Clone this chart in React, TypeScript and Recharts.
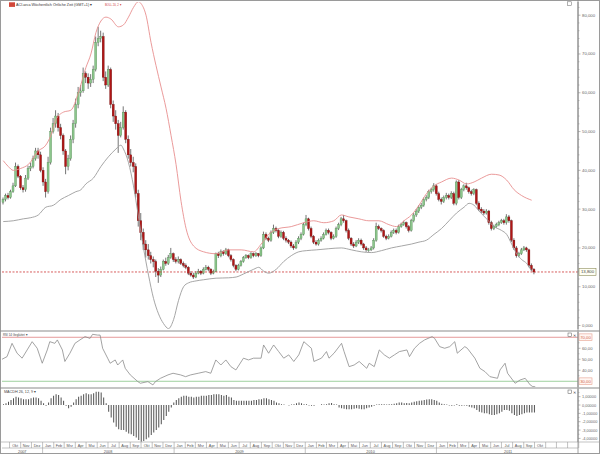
import React from 'react';
import { ComposedChart, Bar, Line, XAxis, YAxis, ReferenceLine } from 'recharts';

// ---------- weekly candles (Sep 2007 .. Oct 2011) ----------
const opens = [
  31.8, 32.5, 33.5, 33.0, 34.5, 36.0, 41.0, 38.5, 35.5, 35.0,
  38.0, 40.5, 41.0, 43.0, 45.0, 44.0, 40.0, 37.0, 34.5, 42.0,
  50.0, 52.0, 54.0, 51.0, 49.0, 45.0, 41.0, 43.0, 48.0, 52.0,
  57.0, 60.0, 60.5, 65.0, 64.0, 62.5, 63.5, 66.0, 73.0, 74.0,
  74.5, 64.0, 62.0, 66.0, 57.0, 54.0, 52.0, 49.0, 51.0, 55.0,
  48.0, 44.0, 42.0, 41.0, 34.0, 27.0, 24.0, 21.0, 19.5, 18.0,
  17.0, 16.5, 14.0, 13.0, 14.5, 16.5, 16.0, 17.5, 18.5, 17.0,
  16.5, 17.0, 16.0, 15.5, 15.0, 13.5, 13.0, 12.5, 13.5, 14.0,
  13.5, 14.5, 15.0, 14.5, 13.5, 14.0, 18.5, 18.0, 19.0, 18.5,
  19.5, 18.0, 17.0, 15.5, 14.5, 15.5, 16.5, 17.5, 18.0, 17.5,
  18.5, 18.0, 18.5, 18.0, 20.0, 23.5, 22.5, 22.0, 24.0, 25.0,
  24.5, 23.0, 24.0, 22.5, 22.0, 21.5, 20.5, 20.0, 21.5, 22.5,
  23.5, 26.0, 27.5, 25.0, 23.0, 21.5, 21.0, 22.0, 22.5, 23.5,
  24.5, 24.0, 22.5, 23.0, 25.0, 26.0, 27.5, 27.0, 24.5, 22.5,
  21.0, 20.5, 21.5, 22.0, 21.0, 20.0, 19.5, 19.5, 20.0, 22.0,
  25.5, 25.0, 24.5, 23.0, 22.5, 23.0, 24.0, 24.5, 24.0, 25.5,
  26.0, 26.5, 25.5, 24.5, 27.0, 28.5, 29.5, 30.5, 31.0, 32.5,
  33.0, 34.5, 35.0, 36.0, 34.0, 32.5, 32.0, 33.0, 33.5, 33.0,
  34.0, 31.5, 37.0, 33.0, 35.0, 36.0, 35.5, 34.5, 34.0, 35.0,
  31.5, 30.0, 29.5, 29.0, 29.5, 26.5, 25.0, 25.5, 26.0, 26.5,
  27.0, 26.5, 28.0, 27.0, 22.0, 20.0, 18.0, 18.5, 19.5, 20.0,
  19.5, 15.5, 14.5,
];
const highs = [
  33.0, 34.0, 34.2, 35.0, 36.8, 42.0, 41.5, 38.8, 36.2, 38.8,
  41.2, 42.0, 43.8, 45.8, 45.8, 44.8, 40.8, 37.8, 43.5, 51.0,
  53.5, 55.5, 54.8, 52.0, 49.5, 45.5, 44.0, 49.0, 53.0, 58.5,
  61.5, 62.0, 66.5, 65.5, 65.0, 64.8, 67.0, 74.5, 77.0, 76.0,
  75.5, 65.5, 67.0, 66.5, 58.0, 55.5, 53.0, 52.5, 56.5, 55.5,
  49.0, 45.5, 43.5, 41.8, 35.0, 29.0, 25.0, 22.0, 21.0, 19.0,
  17.8, 17.0, 14.8, 15.2, 17.0, 17.5, 18.2, 20.0, 18.8, 17.6,
  17.8, 17.3, 16.5, 16.0, 15.3, 14.0, 13.6, 14.0, 14.6, 14.3,
  15.0, 15.6, 15.4, 14.8, 14.4, 18.8, 19.0, 19.6, 19.4, 20.0,
  19.8, 18.4, 17.3, 15.8, 15.9, 16.9, 17.9, 18.4, 18.3, 18.9,
  18.8, 18.9, 18.7, 20.4, 24.2, 24.0, 22.9, 24.5, 26.0, 25.5,
  24.8, 24.5, 24.4, 23.0, 22.3, 21.9, 21.0, 22.0, 23.0, 24.0,
  26.5, 28.5, 27.8, 25.5, 23.3, 22.0, 22.4, 23.0, 24.0, 25.0,
  25.0, 24.3, 23.5, 25.5, 26.5, 28.0, 28.5, 27.3, 25.0, 22.8,
  21.5, 22.0, 22.5, 22.4, 21.3, 20.5, 20.0, 20.5, 22.5, 26.5,
  26.0, 25.3, 24.8, 23.4, 23.5, 24.5, 25.0, 25.0, 26.0, 26.5,
  27.0, 26.8, 25.9, 27.5, 29.0, 30.0, 31.0, 31.6, 33.0, 33.6,
  35.0, 35.5, 36.7, 36.4, 34.5, 33.0, 33.5, 34.2, 34.0, 34.6,
  34.5, 37.4, 37.5, 35.5, 36.4, 36.8, 35.8, 35.0, 35.4, 35.3,
  32.0, 30.5, 30.0, 30.0, 29.8, 27.0, 26.0, 26.5, 27.0, 27.5,
  27.5, 28.7, 28.5, 27.3, 22.5, 20.5, 19.0, 20.0, 20.5, 20.3,
  19.8, 16.0, 14.8,
];
const lows = [
  31.2, 32.0, 32.5, 32.7, 34.2, 35.7, 38.0, 35.0, 34.3, 34.5,
  37.5, 39.8, 40.5, 42.5, 43.0, 39.5, 36.0, 33.0, 34.0, 41.5,
  49.5, 51.0, 50.0, 48.0, 44.0, 39.0, 40.0, 42.5, 47.0, 51.0,
  56.0, 59.0, 60.0, 62.5, 61.0, 61.5, 62.5, 65.5, 72.0, 73.0,
  63.0, 61.0, 61.5, 56.0, 52.5, 50.5, 44.5, 48.5, 50.5, 47.0,
  43.0, 41.0, 39.5, 33.0, 25.5, 22.0, 19.5, 17.5, 17.0, 16.0,
  15.0, 12.5, 11.0, 12.5, 14.2, 15.4, 15.6, 17.2, 16.4, 16.0,
  16.0, 15.6, 15.0, 14.5, 13.0, 12.6, 12.0, 12.2, 13.2, 13.0,
  13.2, 14.2, 14.0, 13.0, 13.2, 13.8, 17.4, 17.6, 18.0, 18.2,
  17.6, 16.5, 15.0, 14.0, 14.2, 15.2, 16.2, 17.2, 17.1, 17.2,
  17.6, 17.7, 17.6, 17.7, 19.7, 22.0, 21.5, 21.6, 23.6, 24.0,
  22.5, 22.6, 22.0, 21.4, 21.0, 20.0, 19.5, 19.7, 21.0, 22.0,
  23.2, 25.6, 24.5, 22.5, 21.0, 20.6, 20.6, 21.6, 22.2, 23.2,
  23.5, 22.0, 22.2, 22.6, 24.6, 25.6, 26.5, 24.0, 22.0, 20.5,
  20.0, 20.2, 21.0, 20.6, 19.5, 19.0, 19.0, 19.2, 19.6, 21.6,
  24.6, 24.0, 22.6, 22.0, 22.2, 22.7, 23.6, 23.5, 23.7, 25.2,
  25.7, 25.0, 24.0, 24.2, 26.6, 28.0, 29.0, 30.0, 30.6, 32.0,
  32.6, 34.0, 34.5, 33.5, 32.0, 31.2, 31.6, 32.5, 32.5, 32.6,
  31.0, 31.0, 32.5, 32.6, 34.6, 35.0, 34.0, 33.5, 33.6, 31.0,
  29.5, 29.0, 28.5, 28.6, 26.0, 24.5, 24.6, 25.2, 25.6, 26.2,
  26.0, 26.0, 26.5, 21.5, 19.5, 17.5, 17.6, 18.2, 19.2, 19.0,
  15.0, 14.0, 13.2,
];
const closes = [
  32.5, 33.5, 33.0, 34.5, 36.0, 41.0, 38.5, 35.5, 35.0, 38.0,
  40.5, 41.0, 43.0, 45.0, 44.0, 40.0, 37.0, 34.5, 42.0, 50.0,
  52.0, 54.0, 51.0, 49.0, 45.0, 41.0, 43.0, 48.0, 52.0, 57.0,
  60.0, 60.5, 65.0, 64.0, 62.5, 63.5, 66.0, 73.0, 74.0, 74.5,
  64.0, 62.0, 66.0, 57.0, 54.0, 52.0, 49.0, 51.0, 55.0, 48.0,
  44.0, 42.0, 41.0, 34.0, 27.0, 24.0, 21.0, 19.5, 18.0, 17.0,
  16.5, 14.0, 13.0, 14.5, 16.5, 16.0, 17.5, 18.5, 17.0, 16.5,
  17.0, 16.0, 15.5, 15.0, 13.5, 13.0, 12.5, 13.5, 14.0, 13.5,
  14.5, 15.0, 14.5, 13.5, 14.0, 18.5, 18.0, 19.0, 18.5, 19.5,
  18.0, 17.0, 15.5, 14.5, 15.5, 16.5, 17.5, 18.0, 17.5, 18.5,
  18.0, 18.5, 18.0, 20.0, 23.5, 22.5, 22.0, 24.0, 25.0, 24.5,
  23.0, 24.0, 22.5, 22.0, 21.5, 20.5, 20.0, 21.5, 22.5, 23.5,
  26.0, 27.5, 25.0, 23.0, 21.5, 21.0, 22.0, 22.5, 23.5, 24.5,
  24.0, 22.5, 23.0, 25.0, 26.0, 27.5, 27.0, 24.5, 22.5, 21.0,
  20.5, 21.5, 22.0, 21.0, 20.0, 19.5, 19.5, 20.0, 22.0, 25.5,
  25.0, 24.5, 23.0, 22.5, 23.0, 24.0, 24.5, 24.0, 25.5, 26.0,
  26.5, 25.5, 24.5, 27.0, 28.5, 29.5, 30.5, 31.0, 32.5, 33.0,
  34.5, 35.0, 36.0, 34.0, 32.5, 32.0, 33.0, 33.5, 33.0, 34.0,
  31.5, 37.0, 33.0, 35.0, 36.0, 35.5, 34.5, 34.0, 35.0, 31.5,
  30.0, 29.5, 29.0, 29.5, 26.5, 25.0, 25.5, 26.0, 26.5, 27.0,
  26.5, 28.0, 27.0, 22.0, 20.0, 18.0, 18.5, 19.5, 20.0, 19.5,
  15.5, 14.5, 13.8,
];

// ---------- Bollinger (20, 2), read at sampled weeks ----------
const upperWeeks = [0, 2, 4, 7, 10, 14, 17, 19, 21, 24, 27, 30, 33, 35, 37, 39, 41, 43, 46, 48, 50, 52, 54, 55, 57, 59, 61, 63, 65, 67, 69, 71, 73, 76, 80, 85, 90, 95, 100, 103, 106, 110, 115, 120, 124, 128, 132, 135, 138, 142, 146, 150, 154, 157, 160, 163, 166, 169, 172, 175, 179, 182, 185, 188, 191, 195, 198, 201, 204, 207, 211];
const upperBand = [42.5, 41.0, 40.0, 40.5, 41.5, 45.0, 46.5, 49.0, 53.0, 55.0, 55.5, 60.0, 66.5, 70.0, 75.5, 78.5, 79.5, 79.0, 77.0, 77.5, 79.5, 82.0, 83.5, 83.0, 80.0, 73.0, 67.0, 61.5, 56.0, 49.0, 41.5, 32.0, 25.0, 20.5, 19.0, 18.5, 19.5, 19.5, 19.0, 21.0, 23.5, 25.0, 25.5, 26.5, 27.0, 26.5, 27.0, 28.5, 28.0, 27.5, 27.0, 27.0, 26.0, 25.5, 27.0, 28.5, 31.0, 34.0, 36.0, 37.0, 38.0, 37.5, 36.5, 37.0, 38.0, 39.0, 38.8, 37.5, 35.0, 33.5, 32.3];
const lowerWeeks = [0, 4, 8, 11, 14, 17, 20, 23, 26, 29, 31, 33, 36, 39, 42, 45, 47, 48, 50, 52, 54, 56, 58, 60, 62, 64, 66, 68, 70, 72, 74, 77, 80, 85, 90, 93, 96, 100, 102, 104, 106, 109, 112, 115, 118, 121, 125, 130, 135, 139, 143, 147, 151, 155, 159, 163, 166, 169, 172, 175, 178, 181, 184, 186, 188, 190, 193, 196, 199, 201, 203, 205, 207, 209, 211];
const lowerBand = [26.8, 27.0, 27.5, 27.8, 28.5, 30.5, 31.0, 32.5, 33.5, 34.5, 35.0, 36.5, 38.0, 41.0, 43.5, 45.5, 46.5, 45.5, 42.0, 36.0, 28.0, 20.0, 13.0, 7.0, 3.0, 0.5, -0.8, 1.5, 6.5, 10.0, 11.0, 11.5, 11.8, 12.2, 12.3, 12.5, 13.3, 14.5, 15.0, 14.0, 13.5, 14.5, 16.5, 18.0, 19.0, 19.3, 19.5, 19.8, 20.0, 19.5, 19.0, 18.8, 19.3, 20.0, 20.5, 21.0, 21.5, 22.0, 23.5, 25.0, 27.0, 29.0, 30.5, 31.5, 31.0, 29.5, 27.5, 25.5, 24.5, 23.5, 21.0, 18.5, 17.0, 16.0, 14.0];

// ---------- RSI 14 (smoothed), read at sampled weeks ----------
const rsiWeeks = [0, 2, 4, 6, 8, 10, 12, 14, 16, 18, 19, 21, 22, 24, 25, 27, 29, 31, 33, 35, 36, 38, 39, 40, 42, 43, 45, 46, 48, 49, 51, 54, 55, 58, 60, 61, 63, 66, 68, 71, 73, 75, 78, 81, 83, 85, 87, 89, 91, 93, 96, 98, 100, 103, 104, 106, 108, 110, 112, 114, 116, 118, 120, 123, 124, 127, 129, 130, 132, 135, 136, 138, 140, 142, 145, 146, 148, 150, 152, 154, 156, 158, 161, 162, 164, 166, 168, 171, 172, 174, 176, 178, 180, 181, 184, 185, 188, 190, 192, 194, 197, 198, 200, 201, 204, 206, 208, 210, 211, 212];
const rsiValues = [50, 52.4, 64.5, 55.5, 51, 58.5, 66, 60, 46.4, 58.5, 66, 64.5, 67.6, 58.5, 48, 55.5, 64.5, 67.6, 70.6, 69, 72.7, 72, 72, 60, 51, 46.4, 49.4, 44.8, 49.4, 41.8, 35.8, 29.7, 28.2, 29.7, 26.7, 29.7, 32.7, 35.8, 37.3, 35.8, 34.2, 35.8, 37.3, 38.8, 37.3, 49.4, 44.8, 49.4, 43.3, 40.3, 51, 49.4, 51, 51, 63, 55.5, 63, 57, 51, 54, 48, 54, 66, 60, 48, 51, 57, 51, 55.5, 64.5, 57, 43.3, 44.8, 48, 41.8, 46.4, 43.3, 58.5, 54, 51, 54, 57, 58.5, 52.4, 60, 64.5, 67.6, 70.6, 69, 61.5, 60, 61.5, 66, 55.5, 61.5, 60, 51, 41.8, 38.8, 34.2, 32.7, 40.3, 46.4, 37.3, 28.2, 31.2, 32.7, 26.7, 25.2, 25.0];

// ---------- MACD histogram (26, 12, 9), one per week ----------
const macdHist = [
  0.1, 0.2, 0.4, 0.6, 0.8, 1.0, 0.9, 0.8, 0.7, 0.7,
  0.7, 0.8, 0.9, 0.9, 0.8, 0.5, 0.2, -0.1, 0.3, 0.8,
  1.1, 1.3, 1.2, 0.9, 0.5, -0.1, -0.4, -0.2, 0.3, 0.7,
  1.0, 1.1, 1.3, 1.4, 1.3, 1.3, 1.4, 1.6, 1.6, 1.5,
  0.9, 0.2, -0.8, -1.5, -2.1, -2.6, -2.9, -3.0, -3.0, -3.2,
  -3.4, -3.5, -3.7, -3.9, -4.2, -4.4, -4.3, -4.1, -3.9, -3.6,
  -3.3, -3.0, -2.7, -2.3, -1.8, -1.3, -0.8, -0.3, 0.3, 0.6,
  0.8, 1.0, 1.1, 1.1, 1.0, 1.0, 0.9, 1.0, 1.0, 1.1,
  1.1, 1.1, 1.2, 1.2, 1.3, 1.3, 1.3, 1.2, 1.1, 1.2,
  1.0, 0.9, 0.6, 0.5, 0.5, 0.5, 0.5, 0.5, 0.5, 0.5,
  0.6, 0.6, 0.7, 0.7, 0.8, 0.8, 0.7, 0.6, 0.5, 0.3,
  0.2, 0.1, 0.05, 0.0, -0.05, 0.05, 0.1, 0.2, 0.3, 0.2,
  0.1, 0.1, -0.05, -0.1, -0.1, 0.0, 0.0, 0.1, 0.05, 0.1,
  0.2, 0.25, 0.1, 0.05, -0.3, -0.4, -0.45, -0.5, -0.5, -0.5,
  -0.45, -0.4, -0.45, -0.5, -0.5, -0.4, -0.3, -0.2, -0.1, 0.05,
  0.1, 0.1, 0.1, 0.05, 0.1, 0.1, 0.15, 0.2, 0.3, 0.3,
  0.2, 0.25, 0.2, 0.3, 0.4, 0.45, 0.5, 0.55, 0.6, 0.65,
  0.7, 0.7, 0.6, 0.5, 0.3, 0.15, 0.1, 0.05, -0.05, -0.1,
  -0.05, 0.1, -0.1, -0.1, -0.05, -0.1, -0.2, -0.3, -0.4, -0.6,
  -0.8, -0.9, -1.0, -1.0, -1.1, -1.2, -1.2, -1.1, -1.0, -0.8,
  -0.6, -0.6, -0.7, -1.0, -1.2, -1.3, -1.2, -1.1, -1.0, -0.9,
  -0.9, -0.9, -0.9,
];

// ---------- axis labels ----------
const rsiTicks = [30, 40, 50, 60, 70];
const rsiBoxed = [30, 70];
const monthNames = ['Jan', 'Feb', 'Mrz', 'Apr', 'Mai', 'Jun', 'Jul', 'Aug', 'Sep', 'Okt', 'Nov', 'Dez'];
const titleText = 'ACI.arca Wöchentlich Örtliche Zeit (GMT+1) ▾';
const bollText = 'BOLL 20, 2 ▾';
const rsiTitle = 'RSI 14 Geglättet ▾';
const macdTitle = 'MACDH 26, 12, 9 ▾';

// ---------- layout ----------
const W = 600;
const M_LEFT = 2;
const AXIS_W = 22;
const AXIS_X = W - AXIS_W;
const SLOTS = 230;
const SLOT_W = (W - M_LEFT - AXIS_W) / SLOTS;
const FONT = 'Liberation Sans, Arial, sans-serif';
const MACD_H = 66;
const TIME_H = 12;
const TIME_TOP = MACD_H - TIME_H; // chart-local y of the time axis
const lastClose = closes[closes.length - 1];

const DATA_START = Date.UTC(2007, 8, 10);
const posOf = (y: number, m: number) => (Date.UTC(y, m, 1) - DATA_START) / (7 * 86400000);
const lastLabel = { y: 2011, m: 9 };
const monthCells: { pos: number; label: string; m: number; y: number }[] = [];
for (let y = 2007; y <= 2012; y++) {
  for (let m = 0; m < 12; m++) {
    const p = posOf(y, m);
    if (p <= 0 || p >= SLOTS) continue;
    const show = y < lastLabel.y || (y === lastLabel.y && m <= lastLabel.m);
    monthCells.push({ pos: p, label: show ? monthNames[m] : '', m, y });
  }
}
const monthTicks = monthCells.map((c) => c.pos);

const rows = Array.from({ length: SLOTS }, (_, w) => {
  const has = w < closes.length;
  return {
    w,
    range: has ? [lows[w], highs[w]] : null,
    open: has ? opens[w] : null,
    high: has ? highs[w] : null,
    low: has ? lows[w] : null,
    close: has ? closes[w] : null,
    upper: null as number | null,
    lower: null as number | null,
    rsi: null as number | null,
    macd: w < macdHist.length ? macdHist[w] : null,
  };
});
upperWeeks.forEach((wk, i) => { rows[wk].upper = upperBand[i]; });
lowerWeeks.forEach((wk, i) => { rows[wk].lower = lowerBand[i]; });
rsiWeeks.forEach((wk, i) => { rows[wk].rsi = rsiValues[i]; });

const fmt = (v: number, d: number) => v.toFixed(d).replace('.', ',');

const Candle = (props: any) => {
  const { x, y, width, height, payload } = props;
  if (!payload || payload.high == null || x == null) return null;
  const { open, high, low, close } = payload;
  const top0 = Math.min(y, y + height);
  const h0 = Math.abs(height);
  const span = high - low || 1;
  const yv = (v: number) => top0 + ((high - v) / span) * h0;
  const cx = x + width / 2;
  const up = close >= open;
  const bt = yv(Math.max(open, close));
  const bb = yv(Math.min(open, close));
  return (
    <g>
      <line x1={cx} x2={cx} y1={top0} y2={top0 + h0} stroke="#3a3a3a" strokeWidth={0.7} />
      <rect
        x={x}
        y={bt}
        width={width}
        height={Math.max(bb - bt, 0.8)}
        fill={up ? '#8cc68c' : '#b01616'}
        stroke={up ? '#4f8a4f' : '#6e0a0a'}
        strokeWidth={0.35}
      />
    </g>
  );
};

const minorTick = (y: number) => (
  <line x1={AXIS_X} x2={AXIS_X + 1.5} y1={y} y2={y} stroke="#8a8a8a" strokeWidth={0.5} />
);

const PriceTick = (p: any) => {
  const { y, payload } = p;
  const x = AXIS_X;
  const v = payload.value;
  if (v === lastClose) {
    return (
      <g>
        <rect x={x + 1} y={y - 3.6} width={17} height={7.2} fill="#fffff4" stroke="#8c8c5a" strokeWidth={0.6} />
        <text x={x + 9.5} y={y + 1.5} fontSize={4.3} fontFamily={FONT} textAnchor="middle" fill="#444">{fmt(v, 3)}</text>
      </g>
    );
  }
  if (v % 10 !== 0) return minorTick(y);
  return (
    <g>
      <line x1={x} x2={x + 2.5} y1={y} y2={y} stroke="#8a8a8a" strokeWidth={0.6} />
      <text x={x + 4} y={y + 1.5} fontSize={4.3} fontFamily={FONT} fill="#666">{fmt(v, 3)}</text>
    </g>
  );
};

const RsiTick = (p: any) => {
  const { y, payload } = p;
  const x = AXIS_X;
  const v = payload.value;
  if (rsiBoxed.includes(v)) {
    return (
      <g>
        <rect x={x + 1} y={y - 3.4} width={13} height={6.8} fill="#fff6f2" stroke="#e6a090" strokeWidth={0.6} />
        <text x={x + 7.5} y={y + 1.5} fontSize={4.2} fontFamily={FONT} textAnchor="middle" fill="#d0604c">{fmt(v, 2)}</text>
      </g>
    );
  }
  if (v % 10 !== 0) return minorTick(y);
  return (
    <g>
      <line x1={x} x2={x + 2.5} y1={y} y2={y} stroke="#8a8a8a" strokeWidth={0.6} />
      <text x={x + 4} y={y + 1.5} fontSize={4.2} fontFamily={FONT} fill="#666">{fmt(v, 2)}</text>
    </g>
  );
};

const MacdTick = (p: any) => {
  const { y, payload } = p;
  const x = AXIS_X;
  const v = payload.value;
  if (!Number.isInteger(v)) return minorTick(y);
  return (
    <g>
      <line x1={x} x2={x + 2.5} y1={y} y2={y} stroke="#8a8a8a" strokeWidth={0.6} />
      <text x={x + 4} y={y + 1.5} fontSize={3.9} fontFamily={FONT} fill="#666">{fmt(v, 5)}</text>
    </g>
  );
};

const TimeTick = (p: any) => {
  const { x, payload } = p;
  const y = TIME_TOP;
  const idx = monthCells.findIndex((c) => Math.abs(c.pos - payload.value) < 1e-6);
  if (idx < 0) return null;
  const cell = monthCells[idx];
  const xOf = (pos: number) => x + (pos - cell.pos) * SLOT_W;
  const nextPos = idx + 1 < monthCells.length ? monthCells[idx + 1].pos : SLOTS;
  const yearStart = cell.m === 0 && cell.y <= lastLabel.y;
  const items: any[] = [];
  items.push(<line key="v" x1={x} x2={x} y1={y} y2={y + (yearStart ? TIME_H : 6)} stroke="#9a9a9a" strokeWidth={0.6} />);
  if (cell.label) {
    items.push(
      <text key="t" x={(x + xOf(nextPos)) / 2} y={y + 4.6} fontSize={3.8} fontFamily={FONT} textAnchor="middle" fill="#555">{cell.label}</text>
    );
  }
  if (idx === 0) {
    items.push(<line key="h" x1={xOf(0)} x2={xOf(SLOTS)} y1={y + 6} y2={y + 6} stroke="#9a9a9a" strokeWidth={0.6} />);
    const firstJan = monthCells.find((c) => c.m === 0);
    if (firstJan) {
      items.push(
        <text key="y0" x={(xOf(0) + xOf(firstJan.pos)) / 2} y={y + 10.5} fontSize={3.8} fontFamily={FONT} textAnchor="middle" fill="#555">{String(cell.y)}</text>
      );
    }
  }
  if (yearStart) {
    const nextJan = monthCells.find((c) => c.m === 0 && c.y === cell.y + 1 && c.y <= lastLabel.y);
    const endPos = nextJan ? nextJan.pos : SLOTS;
    items.push(
      <text key="y" x={(x + xOf(endPos)) / 2} y={y + 10.5} fontSize={3.8} fontFamily={FONT} textAnchor="middle" fill="#555">{String(cell.y)}</text>
    );
  }
  return <g>{items}</g>;
};

const evenTicks = (lo: number, hi: number, step: number) => {
  const out: number[] = [];
  for (let v = lo; v <= hi + 1e-9; v += step) out.push(Math.round(v * 100) / 100);
  return out;
};

export default function App() {
  const priceAxisTicks = [...evenTicks(0, 82, 2), lastClose];
  const rsiAxisTicks = evenTicks(30, 70, 5);
  const macdAxisTicks = evenTicks(-4, 1.5, 0.5);
  return (
    <div style={{ position: 'absolute', left: 0, top: 0, width: W, height: 454, background: '#fff', overflow: 'hidden' }}>
      {/* main price panel */}
      <div style={{ position: 'absolute', left: 0, top: 0 }}>
        <ComposedChart width={W} height={331} data={rows} margin={{ top: 2, right: 0, bottom: 2, left: M_LEFT }}>
          <XAxis dataKey="w" type="category" hide />
          <YAxis
            orientation="right"
            width={AXIS_W}
            domain={[-0.9, 83.4]}
            allowDataOverflow
            ticks={priceAxisTicks}
            interval={0}
            tickSize={0}
            tickMargin={0}
            tickLine={false}
            axisLine={{ stroke: '#8a8a8a' }}
            tick={(p: any) => <PriceTick {...p} />}
          />
          <ReferenceLine y={lastClose} stroke="#cc3333" strokeDasharray="2 1.5" strokeWidth={0.8} />
          <Line dataKey="upper" type="monotone" stroke="#e88e8e" strokeWidth={0.9} dot={false} connectNulls isAnimationActive={false} />
          <Line dataKey="lower" type="monotone" stroke="#9c9c9c" strokeWidth={0.9} dot={false} connectNulls isAnimationActive={false} />
          <Bar dataKey="range" barSize={2} shape={(p: any) => <Candle {...p} />} isAnimationActive={false} />
        </ComposedChart>
      </div>

      {/* RSI panel */}
      <div style={{ position: 'absolute', left: 0, top: 331 }}>
        <ComposedChart width={W} height={57} data={rows} margin={{ top: 1, right: 0, bottom: 1, left: M_LEFT }}>
          <XAxis dataKey="w" type="category" hide />
          <YAxis
            orientation="right"
            width={AXIS_W}
            domain={[24.8, 74.8]}
            allowDataOverflow
            ticks={rsiAxisTicks}
            interval={0}
            tickSize={0}
            tickMargin={0}
            tickLine={false}
            axisLine={{ stroke: '#8a8a8a' }}
            tick={(p: any) => <RsiTick {...p} />}
          />
          <ReferenceLine y={rsiTicks[4]} stroke="#e08080" strokeWidth={0.8} />
          <ReferenceLine y={rsiTicks[0]} stroke="#86c486" strokeWidth={0.8} />
          <Line dataKey="rsi" type="linear" stroke="#8c8c8c" strokeWidth={0.8} dot={false} connectNulls isAnimationActive={false} />
        </ComposedChart>
      </div>

      {/* MACD panel + time axis */}
      <div style={{ position: 'absolute', left: 0, top: 388 }}>
        <ComposedChart width={W} height={MACD_H} data={rows} margin={{ top: 1, right: 0, bottom: 0, left: M_LEFT }}>
          <XAxis dataKey="w" type="category" hide />
          <XAxis
            xAxisId="t"
            type="number"
            domain={[0, SLOTS]}
            allowDataOverflow
            ticks={monthTicks}
            interval={0}
            height={TIME_H}
            tickSize={0}
            tickMargin={0}
            tickLine={false}
            axisLine={{ stroke: '#9a9a9a', strokeWidth: 0.6 }}
            tick={(p: any) => <TimeTick {...p} />}
          />
          <YAxis
            orientation="right"
            width={AXIS_W}
            domain={[-4.43, 1.92]}
            allowDataOverflow
            ticks={macdAxisTicks}
            interval={0}
            tickSize={0}
            tickMargin={0}
            tickLine={false}
            axisLine={{ stroke: '#8a8a8a' }}
            tick={(p: any) => <MacdTick {...p} />}
          />
          <Bar dataKey="macd" barSize={1} fill="#505050" isAnimationActive={false} />
        </ComposedChart>
      </div>

      {/* frame, separators, panel titles */}
      <svg width={W} height={454} style={{ position: 'absolute', left: 0, top: 0, pointerEvents: 'none' }}>
        <rect x={0.5} y={0.5} width={W - 1} height={453} fill="none" stroke="#9a9a9a" strokeWidth={1} />
        <line x1={0} x2={W} y1={331} y2={331} stroke="#8c8c8c" strokeWidth={1.2} />
        <line x1={0} x2={W} y1={388} y2={388} stroke="#8c8c8c" strokeWidth={1.2} />
        <line x1={0} x2={W} y1={442} y2={442} stroke="#9a9a9a" strokeWidth={0.6} />
        <line x1={AXIS_X} x2={AXIS_X} y1={0} y2={454} stroke="#8a8a8a" strokeWidth={0.8} />

        <rect x={9} y={2.3} width={6} height={4.6} fill="#d2473a" />
        <text x={16} y={6.3} fontSize={4.2} fontFamily={FONT} fill="#333" textLength={76} lengthAdjust="spacingAndGlyphs">{titleText}</text>
        <text x={105} y={6.3} fontSize={4.2} fontFamily={FONT} fill="#d04040" textLength={16} lengthAdjust="spacingAndGlyphs">{bollText}</text>
        <rect x={567.5} y={1.8} width={4} height={3.6} fill="none" stroke="#666" strokeWidth={0.5} />

        <text x={3} y={336.3} fontSize={4} fontFamily={FONT} fill="#444" textLength={24} lengthAdjust="spacingAndGlyphs">{rsiTitle}</text>
        <rect x={568} y={333} width={3.6} height={3.4} fill="none" stroke="#555" strokeWidth={0.5} />
        <text x={572.5} y={336.5} fontSize={4.2} fontFamily={FONT} fill="#444">✕</text>

        <text x={4} y={393.3} fontSize={4} fontFamily={FONT} fill="#444" textLength={32} lengthAdjust="spacingAndGlyphs">{macdTitle}</text>
        <rect x={568} y={390} width={3.6} height={3.4} fill="none" stroke="#555" strokeWidth={0.5} />
        <text x={572.5} y={393.5} fontSize={4.2} fontFamily={FONT} fill="#444">✕</text>
      </svg>
    </div>
  );
}
